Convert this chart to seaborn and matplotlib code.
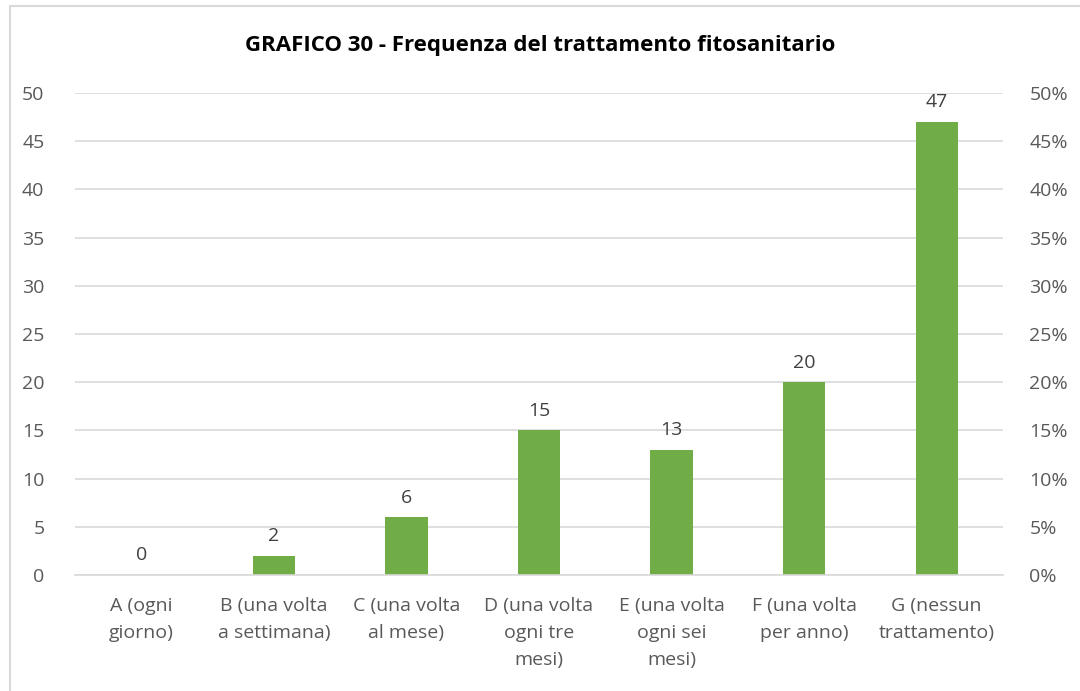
import matplotlib
matplotlib.use("Agg")
import matplotlib.pyplot as plt
import seaborn as sns
import pandas as pd
from matplotlib.patches import Rectangle
from matplotlib.ticker import PercentFormatter

# data
categories = ["A (ogni\ngiorno)", "B (una volta\na settimana)", "C (una volta\nal mese)",
              "D (una volta\nogni tre\nmesi)", "E (una volta\nogni sei\nmesi)",
              "F (una volta\nper anno)", "G (nessun\ntrattamento)"]
counts = [0, 2, 6, 15, 13, 20, 47]
title = "GRAFICO 30 - Frequenza del trattamento fitosanitario"

sns.set_theme(style="white")
plt.rcParams['font.family'] = ['Open Sans', 'DejaVu Sans']

txt = "#595959"
green = "#70AD47"
grid = "#D9D9D9"

df = pd.DataFrame({"cat": categories, "n": counts})

fig = plt.figure(figsize=(10.8, 6.91), dpi=100)
ax = fig.add_axes([75/1080, 1 - 575/691, (1003-75)/1080, (575-93)/691])

sns.barplot(data=df, x="cat", y="n", color=green, width=0.32, saturation=1,
            linewidth=0, ax=ax)

ax.set_ylim(0, 50)
ax.set_yticks(range(0, 51, 5))
ax.set_xlim(-0.5, len(categories) - 0.5)
ax.yaxis.grid(True, color=grid, linewidth=1.2)
ax.set_axisbelow(True)
for s in ["top", "right", "left"]:
    ax.spines[s].set_visible(False)
ax.spines["bottom"].set_color(grid)
ax.spines["bottom"].set_linewidth(1.2)
ax.set_xlabel("")
ax.set_ylabel("")
ax.tick_params(axis="y", length=0, labelsize=14, colors=txt, pad=22)
ax.tick_params(axis="x", length=0, labelsize=14, colors=txt, pad=16)
for lab in ax.get_xticklabels():
    lab.set_linespacing(1.65)

for i, v in enumerate(counts):
    ax.text(i, v + 1.1, str(v), ha="center", va="bottom", fontsize=14, color="#404040")

ax2 = ax.twinx()
ax2.set_ylim(0, 0.5)
ax2.set_yticks([i / 100 for i in range(0, 51, 5)])
ax2.yaxis.set_major_formatter(PercentFormatter(1.0, decimals=0))
for s in ax2.spines.values():
    s.set_visible(False)
ax2.tick_params(axis="y", length=0, labelsize=14, colors=txt, pad=19)
ax2.grid(False)

fig.text(0.5, 1 - 45/691, title, ha="center", va="center", fontsize=16,
         fontweight="bold", color="black")

fig.patches.append(Rectangle((10/1080, -0.05), 1.1, 1 - 6/691 + 0.05,
                             transform=fig.transFigure, fill=False,
                             edgecolor="#D9D9D9", linewidth=1.5))

fig.savefig("out.png", dpi=100)
